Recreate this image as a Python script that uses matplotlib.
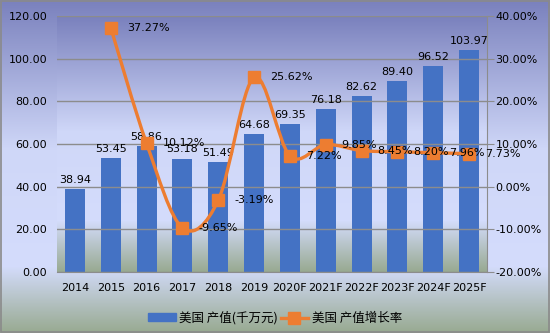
import matplotlib
matplotlib.use("Agg")
import matplotlib.pyplot as plt
import numpy as np
from matplotlib.colors import LinearSegmentedColormap
from matplotlib.path import Path
from matplotlib.patches import PathPatch, Patch, Rectangle
from matplotlib.lines import Line2D

plt.rcParams['font.family'] = ['DejaVu Sans', 'Noto Sans CJK SC']

years = ['2014', '2015', '2016', '2017', '2018', '2019',
         '2020F', '2021F', '2022F', '2023F', '2024F', '2025F']
output = [38.94, 53.45, 58.86, 53.18, 51.49, 64.68,
          69.35, 76.18, 82.62, 89.40, 96.52, 103.97]
growth = [None, 37.27, 10.12, -9.65, -3.19, 25.62,
          7.22, 9.85, 8.45, 8.20, 7.96, 7.73]

bar_color = '#4472c4'
line_color = '#ed7d31'

# vertical gradient: purple at top, pale lavender in the middle, grey-green at the bottom
grad = LinearSegmentedColormap.from_list(
    'bg', [(0.0, '#7a81bd'), (0.45, '#cfd7f8'), (0.80, '#d4dcfc'), (1.0, '#98aa91')])
ramp = np.linspace(0, 1, 256).reshape(-1, 1)

fig = plt.figure(figsize=(5.5, 3.33), dpi=100)

bg = fig.add_axes([0, 0, 1, 1], zorder=-5)
bg.imshow(ramp, cmap=grad, aspect='auto', extent=[0, 1, 0, 1], origin='upper')
bg.add_patch(Rectangle((0.001, 0.002), 0.997, 0.995, fill=False,
                       edgecolor='#8a8a8a', lw=1.2, transform=bg.transAxes))
bg.set_axis_off()

ax = fig.add_axes([57 / 550, 61 / 333, 430 / 550, 256 / 333])
ax.set_facecolor('none')
x = np.arange(len(years))
ax.set_xlim(-0.5, len(years) - 0.5)
ax.set_ylim(0, 120)
ax.imshow(ramp, cmap=grad, aspect='auto', extent=[-0.5, len(years) - 0.5, 0, 120],
          origin='upper', zorder=0)
ax.set_yticks(np.arange(0, 121, 20))
ax.set_yticklabels([f'{v:.2f}' for v in np.arange(0, 121, 20)])
ax.yaxis.grid(True, color='#8c8c8c', lw=1)
ax.set_axisbelow(False)
for gl in ax.get_ygridlines():
    gl.set_zorder(1)

bars = ax.bar(x, output, width=0.56, color=bar_color, zorder=2)
ax.bar_label(bars, labels=[f'{v:.2f}' for v in output], padding=3, fontsize=8)

ax.set_xticks(x)
ax.set_xticklabels(years)
ax.tick_params(axis='both', length=0, labelsize=8)
ax.tick_params(axis='y', pad=7)
ax.tick_params(axis='x', pad=8)
for s in ['left', 'right', 'top']:
    ax.spines[s].set_visible(False)
ax.spines['bottom'].set_color('#8c8c8c')

ax2 = ax.twinx()
ax2.set_ylim(-20, 40)
ax2.set_yticks(np.arange(-20, 41, 10))
ax2.set_yticklabels([f'{v:.2f}%' for v in np.arange(-20, 41, 10)])
ax2.tick_params(axis='y', length=5, color='#8c8c8c', labelsize=8, pad=1)
for s in ['left', 'top', 'bottom']:
    ax2.spines[s].set_visible(False)
ax2.spines['right'].set_color('#8c8c8c')

# smoothed growth line (Catmull-Rom segments as cubic Bezier curves)
gx = np.array([i for i, g in enumerate(growth) if g is not None], dtype=float)
gy = np.array([g for g in growth if g is not None], dtype=float)
pts = np.column_stack([gx, gy])
verts = [pts[0]]
codes = [Path.MOVETO]
for i in range(len(pts) - 1):
    p0 = pts[i - 1] if i > 0 else pts[i]
    p1, p2 = pts[i], pts[i + 1]
    p3 = pts[i + 2] if i + 2 < len(pts) else pts[i + 1]
    verts += [p1 + (p2 - p0) / 6, p2 - (p3 - p1) / 6, p2]
    codes += [Path.CURVE4] * 3
ax2.add_patch(PathPatch(Path(verts, codes), facecolor='none',
                        edgecolor=line_color, lw=2.4, zorder=3))
ax2.plot(gx, gy, ls='none', marker='s', ms=8.5, color=line_color, zorder=4)
for xi, yi in zip(gx, gy):
    ax2.annotate(f'{yi:.2f}%', (xi, yi), xytext=(11.5, 0), textcoords='offset points',
                 ha='left', va='center', fontsize=8, zorder=5)

handles = [Patch(color=bar_color),
           Line2D([], [], color=line_color, lw=2.4, marker='s', ms=8.5)]
fig.legend(handles, ['美国 产值(千万元)', '美国 产值增长率'],
           loc='center', bbox_to_anchor=(0.5, 1 - 318 / 333), ncol=2, frameon=False,
           prop={'family': ['Noto Sans CJK SC', 'DejaVu Sans'], 'size': 9},
           handlelength=2.2, handletextpad=0.3, columnspacing=0.2, handleheight=0.6)

fig.savefig('out.png', dpi=100)
